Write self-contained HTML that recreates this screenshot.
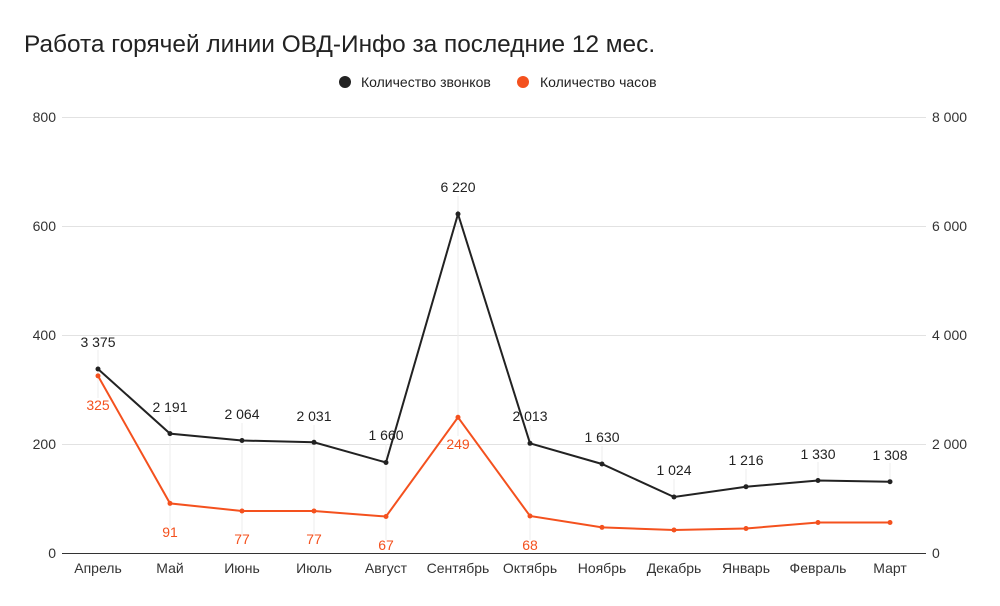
<!DOCTYPE html><html><head><meta charset="utf-8"><style>body{margin:0;background:#fff}svg{display:block;font-family:"Liberation Sans",Arial,sans-serif}</style></head><body>
<svg width="1000" height="606" viewBox="0 0 1000 606">
<text x="24" y="52" font-size="24.4" fill="#222">Работа горячей линии ОВД-Инфо за последние 12 мес.</text>
<circle cx="345" cy="82" r="6" fill="#222"/><text x="361" y="87" font-size="14" fill="#222">Количество звонков</text>
<circle cx="523" cy="82" r="6" fill="#f4511e"/><text x="540" y="87" font-size="14" fill="#222">Количество часов</text>
<g stroke="#e2e2e2" stroke-width="1">
<line x1="62" y1="117.5" x2="926" y2="117.5"/><line x1="62" y1="226.5" x2="926" y2="226.5"/><line x1="62" y1="335.5" x2="926" y2="335.5"/><line x1="62" y1="444.5" x2="926" y2="444.5"/></g>
<line x1="62" y1="553.5" x2="926" y2="553.5" stroke="#333" stroke-width="1"/>
<g font-size="14" fill="#333" text-anchor="end"><text x="56" y="122">800</text><text x="56" y="231">600</text><text x="56" y="340">400</text><text x="56" y="449">200</text><text x="56" y="558">0</text></g>
<g font-size="14" fill="#333"><text x="932" y="122">8 000</text><text x="932" y="231">6 000</text><text x="932" y="340">4 000</text><text x="932" y="449">2 000</text><text x="932" y="558">0</text></g>
<g font-size="14" fill="#333" text-anchor="middle"><text x="98" y="573">Апрель</text><text x="170" y="573">Май</text><text x="242" y="573">Июнь</text><text x="314" y="573">Июль</text><text x="386" y="573">Август</text><text x="458" y="573">Сентябрь</text><text x="530" y="573">Октябрь</text><text x="602" y="573">Ноябрь</text><text x="674" y="573">Декабрь</text><text x="746" y="573">Январь</text><text x="818" y="573">Февраль</text><text x="890" y="573">Март</text></g>
<g stroke="#eee" stroke-width="1"><line x1="98" y1="350" x2="98" y2="398"/><line x1="170" y1="416" x2="170" y2="528"/><line x1="242" y1="423" x2="242" y2="534"/><line x1="314" y1="425" x2="314" y2="534"/><line x1="386" y1="444" x2="386" y2="540"/><line x1="458" y1="196" x2="458" y2="436"/><line x1="530" y1="425" x2="530" y2="540"/><line x1="602" y1="446" x2="602" y2="464"/><line x1="674" y1="479" x2="674" y2="497"/><line x1="746" y1="469" x2="746" y2="487"/><line x1="818" y1="462" x2="818" y2="480"/><line x1="890" y1="463" x2="890" y2="481"/></g>
<polyline fill="none" stroke="#222" stroke-width="2" points="98,369 170,433.6 242,440.5 314,442.3 386,462.5 458,214 530,443.3 602,464 674,497 746,486.7 818,480.5 890,481.7"/>
<polyline fill="none" stroke="#f4511e" stroke-width="2" points="98,375.9 170,503.4 242,511 314,511 386,516.5 458,417.3 530,516 602,527.4 674,530 746,528.5 818,522.5 890,522.5"/>
<g fill="#222"><circle cx="98" cy="369" r="2.5"/><circle cx="170" cy="433.6" r="2.5"/><circle cx="242" cy="440.5" r="2.5"/><circle cx="314" cy="442.3" r="2.5"/><circle cx="386" cy="462.5" r="2.5"/><circle cx="458" cy="214" r="2.5"/><circle cx="530" cy="443.3" r="2.5"/><circle cx="602" cy="464" r="2.5"/><circle cx="674" cy="497" r="2.5"/><circle cx="746" cy="486.7" r="2.5"/><circle cx="818" cy="480.5" r="2.5"/><circle cx="890" cy="481.7" r="2.5"/></g>
<g fill="#f4511e"><circle cx="98" cy="375.9" r="2.5"/><circle cx="170" cy="503.4" r="2.5"/><circle cx="242" cy="511" r="2.5"/><circle cx="314" cy="511" r="2.5"/><circle cx="386" cy="516.5" r="2.5"/><circle cx="458" cy="417.3" r="2.5"/><circle cx="530" cy="516" r="2.5"/><circle cx="602" cy="527.4" r="2.5"/><circle cx="674" cy="530" r="2.5"/><circle cx="746" cy="528.5" r="2.5"/><circle cx="818" cy="522.5" r="2.5"/><circle cx="890" cy="522.5" r="2.5"/></g>
<g font-size="14" fill="#222" text-anchor="middle"><text x="98" y="347">3 375</text><text x="170" y="412">2 191</text><text x="242" y="419">2 064</text><text x="314" y="421">2 031</text><text x="386" y="440">1 660</text><text x="458" y="192">6 220</text><text x="530" y="421">2 013</text><text x="602" y="442">1 630</text><text x="674" y="475">1 024</text><text x="746" y="465">1 216</text><text x="818" y="459">1 330</text><text x="890" y="460">1 308</text></g>
<g font-size="14" fill="#f4511e" text-anchor="middle"><text x="98" y="410">325</text><text x="170" y="537">91</text><text x="242" y="544">77</text><text x="314" y="544">77</text><text x="386" y="550">67</text><text x="458" y="449">249</text><text x="530" y="550">68</text></g>
</svg></body></html>
